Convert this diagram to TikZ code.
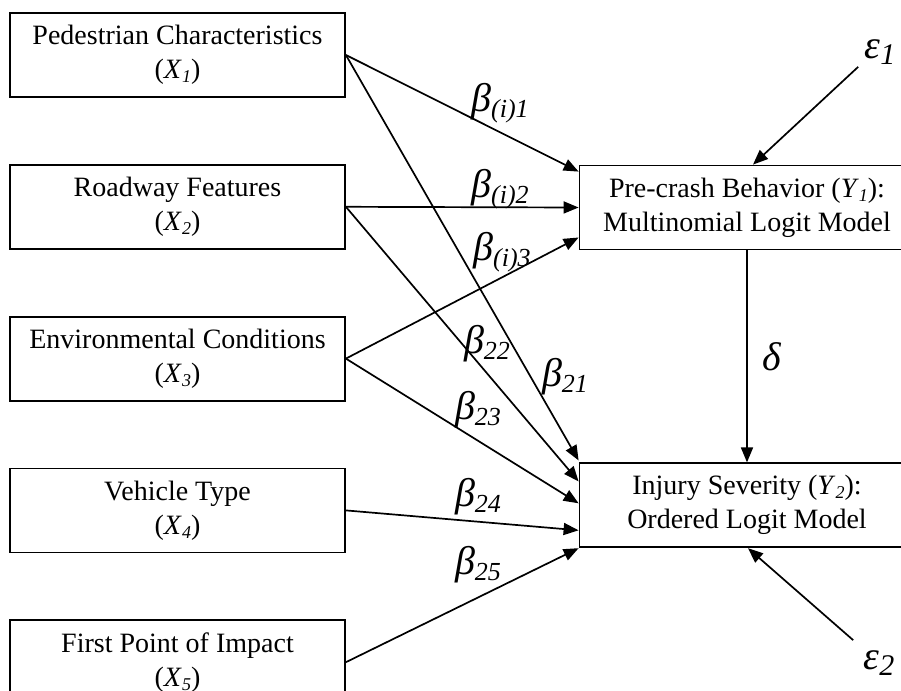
\documentclass[tikz,border=0pt]{standalone}
\usepackage{fontspec}
\setmainfont{Liberation Serif}
\usetikzlibrary{positioning}
\usetikzlibrary{arrows.meta}

\newcommand{\coef}[1]{{\fontsize{20}{20}\selectfont\itshape β\raisebox{-3pt}{\fontsize{13}{13}\selectfont #1}}}
\newcommand{\subvar}[2]{\textit{#1}\raisebox{-2pt}{\fontsize{9}{9}\selectfont\itshape #2}}
\newcommand{\errterm}[1]{{\fontsize{20}{20}\selectfont\itshape ε\raisebox{-3pt}{\fontsize{15}{15}\selectfont #1}}}

\tikzset{
  box/.style={draw, line width=0.9pt, minimum width=167.5pt, minimum height=42pt,
    align=center, inner sep=0pt, font=\fontsize{14}{17}\selectfont},
  lbl/.style={inner sep=0pt},
  link/.style={-{Triangle[length=7.5pt,width=6pt]}, line width=0.85pt}
}

\begin{document}
\begin{tikzpicture}[x=0.5pt,y=-0.5pt,node distance=33pt]
\useasboundingbox (0,0) rectangle (901,691);
\clip (0,0) rectangle (901,691);

% exogenous variables
\node[box] (x1) at (177.5,55) {Pedestrian Characteristics\\(\subvar{X}{1})};
\node[box,below=of x1] (x2) {Roadway Features\\(\subvar{X}{2})};
\node[box,below=of x2] (x3) {Environmental Conditions\\(\subvar{X}{3})};
\node[box,below=of x3] (x4) {Vehicle Type\\(\subvar{X}{4})};
\node[box,below=of x4] (x5) {First Point of Impact\\(\subvar{X}{5})};

% endogenous variables
\node[box] (y1) at (747,207.5) {Pre-crash Behavior (\subvar{Y}{1}):\\Multinomial Logit Model};
\node[box,below=106pt of y1] (y2) {Injury Severity (\subvar{Y}{2}):\\Ordered Logit Model};

% error terms
\node[lbl] (e1) at (880,52) {\errterm{1}};
\node[lbl] (e2) at (879,663) {\errterm{2}};

\path[link]
  (x1.east) edge ([yshift=-3.5pt]y1.north west)
            edge ([yshift=1pt]y2.north west)
  (x2.east) edge (y1.west)
            edge ([yshift=-9.5pt]y2.north west)
  (x3.east) edge ([yshift=-15pt]y1.west)
            edge ([yshift=1pt]y2.west)
  (x4.east) edge ([yshift=-12.5pt]y2.west)
  (x5.east) edge (y2.south west)
  (y1.south) edge node[right=4pt,font=\fontsize{20}{20}\selectfont\itshape] {δ} (y2.north)
  ([shift={(-3pt,-1pt)}]e1.south west) edge ([xshift=3pt]y1.north)
  ([shift={(-5pt,5pt)}]e2.north west) edge ([xshift=0.5pt]y2.south);

% coefficients
\node[lbl] (b11) at (500,103) {\coef{(i)1}};
\node[lbl] (b12) at (500,189) {\coef{(i)2}};
\node[lbl] (b13) at (502,252) {\coef{(i)3}};
\node[lbl] (b22) at (487,344) {\coef{22}};
\node[lbl] (b21) at (565,377) {\coef{21}};
\node[lbl] (b23) at (478,410) {\coef{23}};
\node[lbl] (b24) at (478,497) {\coef{24}};
\node[lbl] (b25) at (478,565) {\coef{25}};
\end{tikzpicture}
\end{document}
